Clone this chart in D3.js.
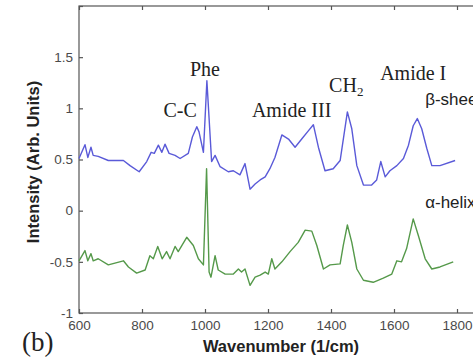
<!DOCTYPE html>
<html><head><meta charset="utf-8">
<script src="https://cdn.jsdelivr.net/npm/d3@7/dist/d3.min.js"></script>
<style>html,body{margin:0;padding:0;background:#fff;overflow:hidden}</style>
</head><body>
<svg id="chart" width="473" height="360"></svg>
<script>
// Wavenumbers (1/cm) and intensities
const betaWn = [600,619,628,638,645,661,693,741,762,791,815,829,839,852,863,873,886,905,921,947,960,974,981,995,1006,1021,1032,1048,1074,1090,1111,1127,1143,1159,1175,1191,1206,1222,1244,1265,1286,1307,1328,1344,1360,1381,1407,1429,1452,1466,1482,1503,1529,1545,1558,1572,1587,1609,1630,1646,1661,1674,1688,1704,1720,1746,1794];
const betaVal = [0.51,0.645,0.52,0.62,0.54,0.53,0.49,0.49,0.44,0.38,0.48,0.57,0.56,0.64,0.57,0.65,0.56,0.54,0.51,0.56,0.72,0.82,0.77,0.57,1.27,0.48,0.54,0.43,0.38,0.39,0.35,0.46,0.21,0.26,0.30,0.33,0.41,0.52,0.74,0.70,0.62,0.70,0.78,0.84,0.62,0.39,0.41,0.49,0.965,0.80,0.44,0.25,0.25,0.30,0.48,0.33,0.39,0.44,0.51,0.64,0.83,0.90,0.80,0.61,0.44,0.44,0.49];

const alphaWn = [600,619,628,638,645,661,693,741,757,783,810,825,836,850,864,878,889,905,915,942,963,979,995,1005,1013,1019,1032,1042,1064,1090,1106,1116,1127,1143,1159,1175,1191,1201,1212,1222,1244,1270,1296,1318,1339,1355,1376,1397,1429,1439,1452,1466,1482,1503,1534,1566,1593,1609,1624,1640,1661,1677,1699,1720,1746,1788];
const alphaVal = [-0.49,-0.39,-0.49,-0.42,-0.49,-0.47,-0.53,-0.49,-0.55,-0.61,-0.58,-0.44,-0.47,-0.35,-0.47,-0.40,-0.47,-0.35,-0.40,-0.26,-0.34,-0.47,-0.53,0.41,-0.60,-0.65,-0.44,-0.58,-0.62,-0.62,-0.57,-0.60,-0.57,-0.73,-0.65,-0.63,-0.60,-0.62,-0.47,-0.57,-0.50,-0.40,-0.31,-0.19,-0.20,-0.34,-0.57,-0.53,-0.52,-0.34,-0.14,-0.31,-0.57,-0.68,-0.70,-0.66,-0.62,-0.49,-0.50,-0.37,-0.08,-0.24,-0.47,-0.57,-0.55,-0.50];

const xTicks = [600,800,1000,1200,1400,1600,1800];
const yTicks = [-1,-0.5,0,0.5,1,1.5,2];
const yTickLabels = ["-1","-0.5","0","0.5","1","1.5",""];

const annotations = [
  {text:"Phe", x:1000, y:1.32, anchor:"middle", serif:true},
  {text:"C-C", x:921, y:0.92, anchor:"middle", serif:true},
  {text:"Amide III", x:1275, y:0.92, anchor:"middle", serif:true},
  {text:"CH", sub:"2", x:1394, y:1.16, anchor:"start", serif:true},
  {text:"Amide I", x:1556, y:1.28, anchor:"start", serif:true},
  {text:"β-sheet", x:1699, y:1.03, anchor:"start", serif:false},
  {text:"α-helix", x:1699, y:0.03, anchor:"start", serif:false}
];

const svg = d3.select("#chart");
const L = 79, T = 6, B = 313;
const x = d3.scaleLinear().domain([600,1800]).range([L, 457]);
const y = d3.scaleLinear().domain([-1,2]).range([B, T]);
const R = x(1900);

const axisColor = "#555";
const tickFont = "Liberation Sans, Arial, sans-serif";

// frame
svg.append("rect").attr("x",L).attr("y",T).attr("width",R-L).attr("height",B-T)
  .attr("fill","none").attr("stroke",axisColor).attr("stroke-width",1.2);

const gx = svg.append("g").attr("transform",`translate(0,${B})`)
  .call(d3.axisBottom(x).tickValues(xTicks).tickFormat(d3.format("d")).tickSize(-4).tickPadding(7));
const gxTop = svg.append("g").attr("transform",`translate(0,${T})`)
  .call(d3.axisTop(x).tickValues(xTicks).tickFormat("").tickSize(-4));
const gy = svg.append("g").attr("transform",`translate(${L},0)`)
  .call(d3.axisLeft(y).tickValues(yTicks).tickFormat((d,i)=>yTickLabels[i]).tickSize(-4).tickPadding(6));

[gx,gxTop,gy].forEach(g=>{
  g.select(".domain").remove();
  g.selectAll(".tick line").attr("stroke",axisColor).attr("stroke-width",1.2);
  g.selectAll(".tick text").attr("fill","#4a4a4a").style("font-family",tickFont).style("font-size","13.5px");
});

const line = d3.line().x(d=>x(d[0])).y(d=>y(d[1]));
svg.append("path").datum(betaWn.map((w,i)=>[w,betaVal[i]]))
  .attr("d",line).attr("fill","none").attr("stroke","#5a5ad8").attr("stroke-width",1.4).attr("stroke-linejoin","round");
svg.append("path").datum(alphaWn.map((w,i)=>[w,alphaVal[i]]))
  .attr("d",line).attr("fill","none").attr("stroke","#55994a").attr("stroke-width",1.4).attr("stroke-linejoin","round");

// axis titles
svg.append("text").attr("x",281).attr("y",352).attr("text-anchor","middle")
  .style("font-family",tickFont).style("font-weight","bold").style("font-size","16.5px").attr("fill","#222")
  .text("Wavenumber (1/cm)");
svg.append("text").attr("transform","translate(39,162) rotate(-90)").attr("text-anchor","middle")
  .style("font-family",tickFont).style("font-weight","bold").style("font-size","16.5px").attr("fill","#222")
  .text("Intensity (Arb. Units)");

svg.append("text").attr("x",22).attr("y",351)
  .style("font-family","Liberation Serif, Times New Roman, serif").style("font-size","27px").attr("fill","#222")
  .text("(b)");

annotations.forEach(a=>{
  const t = svg.append("text").attr("x",x(a.x)).attr("y",y(a.y)).attr("text-anchor",a.anchor)
    .attr("fill","#222")
    .style("font-family", a.serif ? "Liberation Serif, Times New Roman, serif" : tickFont)
    .style("font-size", a.serif ? "20px" : "17px")
    .text(a.text);
  if (a.sub) t.append("tspan").attr("dy",4).style("font-size","13px").text(a.sub);
});
</script>
</body></html>
